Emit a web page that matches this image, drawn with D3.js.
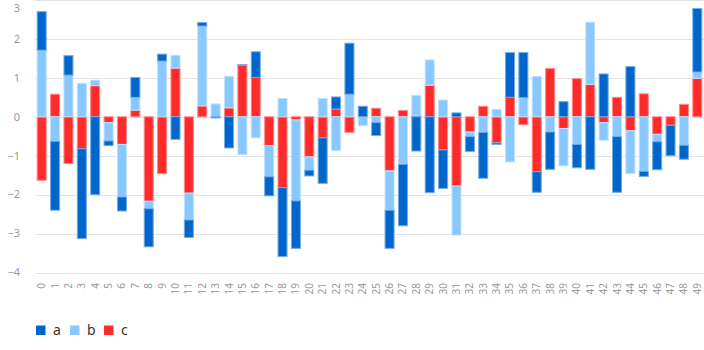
<!DOCTYPE html>
<html>
<head>
<meta charset="utf-8">
<script src="https://cdn.jsdelivr.net/npm/d3@7"></script>
<style>
  html, body { margin: 0; padding: 0; background: #fff; }
  svg { display: block; font-family: "Noto Sans", "Open Sans", sans-serif; }
</style>
</head>
<body>
<svg id="chart" width="704" height="350"></svg>
<script>
// Categories 0..49
const categories = ["0","1","2","3","4","5","6","7","8","9","10","11","12","13","14","15","16","17","18","19","20","21","22","23","24","25","26","27","28","29","30","31","32","33","34","35","36","37","38","39","40","41","42","43","44","45","46","47","48","49"];

const seriesA = [0.99,-1.77,0.50,-2.31,-2.00,-0.12,-0.36,0.51,-0.98,0.18,-0.58,-0.45,0.09,-0.03,-0.80,0.02,0.66,-0.49,-1.77,-1.22,-0.15,-1.17,0.31,1.31,0.27,-0.33,-0.98,-1.58,-0.88,-1.95,-0.99,0.10,-0.38,-1.18,-0.04,1.15,1.16,-0.53,-0.96,0.39,-0.60,-1.35,1.10,-1.43,1.29,-0.13,-0.72,-0.78,-0.36,1.63];
const seriesB = [1.71,-0.63,1.07,0.86,0.14,-0.47,-1.35,0.33,-0.19,1.43,0.33,-0.69,2.05,0.33,0.81,-0.97,-0.54,-0.80,0.47,-2.08,-0.34,0.47,-0.87,0.58,-0.23,-0.15,-1.01,-1.22,0.51,0.65,0.43,-1.26,-0.12,-0.40,0.19,-1.16,0.49,1.04,-0.39,-0.96,-0.71,1.60,-0.45,-0.51,-1.10,-1.40,-0.19,0,-0.73,0.16];
const seriesC = [-1.63,0.58,-1.20,-0.82,0.80,-0.15,-0.71,0.17,-2.17,-1.46,1.25,-1.96,0.28,0,0.23,1.32,1.01,-0.74,-1.82,-0.08,-1.03,-0.54,0.20,-0.40,0,0.22,-1.39,0.16,0.04,0.81,-0.85,-1.78,-0.39,0.27,-0.67,0.50,-0.20,-1.41,1.24,-0.30,0.98,0.83,-0.15,0.50,-0.36,0.59,-0.45,-0.22,0.32,0.99];

const yTicks = [-4,-3,-2,-1,0,1,2,3];
const seriesNames = ["a","b","c"];
const seriesColors = { a: "#0066cc", b: "#88c8ff", c: "#ff2b2b" };

const rows = categories.map((cat, i) => ({ cat, a: seriesA[i], b: seriesB[i], c: seriesC[i] }));

const svg = d3.select("#chart");
const plotLeft = 35, plotRight = 704, plotTop = 0, plotBottom = 272.5;

const x = d3.scaleBand().domain(categories).range([plotLeft, plotRight]).paddingInner(0.25).paddingOuter(0.125);
const y = d3.scaleLinear().domain([-4, 3]).range([plotBottom, plotTop]);

// Grid lines
svg.append("g").selectAll("line").data(yTicks).join("line")
  .attr("x1", plotLeft).attr("x2", plotRight)
  .attr("y1", d => Math.round(y(d)) + 0.5).attr("y2", d => Math.round(y(d)) + 0.5)
  .attr("stroke", "#e3e3e3").attr("stroke-width", 1);

// Y axis labels (kept inside the top edge)
const fmt = d => d < 0 ? "\u2212" + Math.abs(d) : String(d);
svg.append("g").selectAll("text").data(yTicks).join("text")
  .attr("x", 20).attr("y", d => Math.max(y(d), 8)).attr("dy", "0.35em")
  .attr("text-anchor", "end").attr("fill", "#999").attr("font-size", 11)
  .text(fmt);

// Stacked bars: positive and negative values stacked separately
const stack = d3.stack().keys(["c", "b", "a"]).offset(d3.stackOffsetDiverging);
const layers = stack(rows);

const lighten = c => d3.interpolateRgb(c, "#ffffff")(0.45);

svg.append("g").selectAll("g").data(layers).join("g")
  .attr("fill", d => seriesColors[d.key])
  .attr("stroke", d => lighten(seriesColors[d.key]))
  .attr("stroke-width", 1)
  .selectAll("rect").data(d => d.filter(v => v[1] - v[0] !== 0)).join("rect")
  .attr("x", d => x(d.data.cat) + 0.5)
  .attr("width", x.bandwidth() - 1)
  .attr("y", d => y(d[1]))
  .attr("height", d => Math.abs(y(d[0]) - y(d[1])));

// X axis labels, rotated
svg.append("g").selectAll("text").data(categories).join("text")
  .attr("transform", d => `translate(${x(d) + x.bandwidth() / 2},283) rotate(-90)`)
  .attr("text-anchor", "end").attr("dy", "0.35em")
  .attr("fill", "#999").attr("font-size", 10)
  .text(d => d);

// Legend
const legend = svg.append("g").attr("transform", "translate(36,330)");
const items = legend.selectAll("g").data(seriesNames).join("g")
  .attr("transform", (d, i) => `translate(${i * 34},0)`);
items.append("rect").attr("x", 0).attr("y", -4.5).attr("width", 9.5).attr("height", 9.5)
  .attr("fill", d => seriesColors[d]);
items.append("text").attr("x", 17).attr("y", 0).attr("dy", "0.35em")
  .attr("fill", "#333").attr("font-size", 14).text(d => d);
</script>
</body>
</html>
